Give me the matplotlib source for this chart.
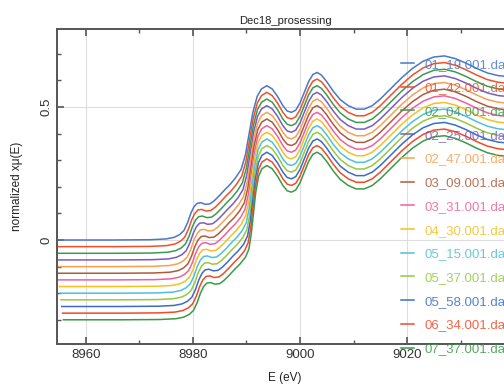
import numpy as np
import matplotlib
matplotlib.use('Agg')
from matplotlib import pyplot as plt
from matplotlib.ticker import MultipleLocator

plt.rcParams['font.family'] = ['Liberation Sans', 'DejaVu Sans']

# base spectrum (top curve)
energy = [8954, 8965, 8972, 8975, 8976.5, 8977.5, 8978.3, 8979.0, 8979.6, 8980.2,
          8980.8, 8981.5, 8982.3, 8983.2, 8984.0, 8985.0, 8986.0, 8987.0, 8988.0, 8989.0,
          8989.8, 8990.5, 8991.2, 8992.0, 8992.8, 8993.8, 8994.8, 8995.8, 8996.8, 8997.6,
          8998.4, 8999.2, 9000.0, 9000.8, 9001.6, 9002.4, 9003.2, 9004.0, 9005.0, 9006.2,
          9007.5, 9009.0, 9010.5, 9012.0, 9013.5, 9015.0, 9017.0, 9019.0, 9021.0, 9023.0,
          9025.0, 9027.0, 9029.0, 9031.0, 9033.0, 9035.0, 9037.0, 9040.0]
mu = [0.000, 0.000, 0.001, 0.004, 0.010, 0.020, 0.035, 0.065, 0.100, 0.125,
      0.138, 0.140, 0.134, 0.136, 0.148, 0.168, 0.190, 0.210, 0.235, 0.265,
      0.320, 0.400, 0.480, 0.540, 0.568, 0.580, 0.568, 0.540, 0.505, 0.485,
      0.480, 0.488, 0.515, 0.555, 0.595, 0.622, 0.630, 0.620, 0.595, 0.560,
      0.528, 0.505, 0.492, 0.492, 0.505, 0.530, 0.570, 0.610, 0.645, 0.672,
      0.688, 0.692, 0.682, 0.665, 0.645, 0.628, 0.618, 0.612]
# how much of the edge shift applies at each energy point
edge_w = [1]*19 + [0.8, 0.6, 0.45, 0.3, 0.15, 0.05] + [0]*33

labels = ['01_19.001.dat', '01_42.001.dat', '02_04.001.dat', '02_25.001.dat',
          '02_47.001.dat', '03_09.001.dat', '03_31.001.dat', '04_30.001.dat',
          '05_15.001.dat', '05_37.001.dat', '05_58.001.dat', '06_34.001.dat',
          '07_37.001.dat']
offsets = [0, -0.025, -0.05, -0.075, -0.1, -0.125, -0.15, -0.175, -0.2,
           -0.225, -0.25, -0.275, -0.3]
shifts = [0, 0.15, 0.3, 0.45, 0.6, 0.75, 0.9, 1.05, 1.2, 1.35, 1.5, 1.65, 1.8]
colors = ['#4a78c8', '#f0502a', '#3c9a50', '#7a5cc0', '#f8a050', '#b05a3c',
          '#f0609c', '#f4c020', '#50c0d8', '#98c840', '#3a6cc8', '#f04a28',
          '#3a9a48']

E = np.array(energy)
m = np.array(mu)
w = np.array(edge_w)

fig = plt.figure(figsize=(5.04, 3.85), dpi=100)
ax = fig.add_axes([0.113, 0.1065, 0.905, 0.818])

for k in range(len(labels)):
    ax.plot(E + shifts[k]*w, m + offsets[k], color=colors[k], lw=1.1, label=labels[k])

ax.set_xlim(8954.6, 9039.8)
ax.set_ylim(-0.391, 0.793)
ax.xaxis.set_major_locator(MultipleLocator(20))
ax.xaxis.set_minor_locator(MultipleLocator(10))
ax.yaxis.set_major_locator(MultipleLocator(0.5))
ax.yaxis.set_minor_locator(MultipleLocator(0.1))
ax.yaxis.set_major_formatter(plt.FuncFormatter(lambda v, p: '%g' % v))
ax.tick_params(which='both', direction='in', top=True, right=True, colors='#555555',
               labelcolor='#333333', labelsize=9.5)
ax.tick_params(which='major', length=5, width=1.2)
ax.tick_params(which='minor', length=3, width=1)
plt.setp(ax.get_yticklabels(), rotation=90, va='center')
ax.grid(True, which='major', color='#dddddd', lw=0.8)
for s in ax.spines.values():
    s.set_color('#555555')
    s.set_linewidth(1.4)

ax.set_title('Dec18_prosessing', fontsize=8, pad=4, color='#222222')
ax.set_xlabel('E (eV)', fontsize=8.5, labelpad=8, color='#222222')
ax.set_ylabel('normalized x\u03bc(E)', fontsize=8.5, labelpad=12, color='#222222')

leg = fig.legend(loc='upper left', bbox_to_anchor=(0.785, 0.862), frameon=False,
                 fontsize=9.5, labelcolor='linecolor', handlelength=1.0,
                 handletextpad=0.75, labelspacing=0.87, borderaxespad=0)
for t in leg.get_texts():
    t.set_alpha(0.85)

fig.savefig('out.png', dpi=100)
